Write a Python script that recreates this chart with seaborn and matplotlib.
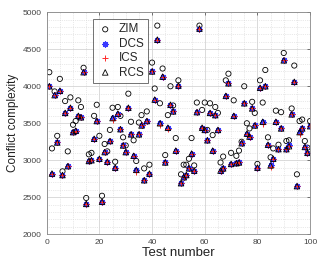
import matplotlib
matplotlib.use("Agg")
import matplotlib.pyplot as plt
import seaborn as sns
from matplotlib.ticker import MultipleLocator

# test index
test_number = list(range(1, 101))

# conflict complexity per test
zim = [4190, 3160, 3930, 3330, 4100, 2850, 3800, 3120, 3850, 3480,
       3530, 3810, 3720, 4250, 2490, 3080, 3100, 3600, 3750, 3330,
       2520, 3220, 3120, 3410, 3710, 2980, 3720, 3600, 3310, 3200,
       3900, 3520, 3270, 2990, 3510, 3610, 2890, 3660, 2940, 4320,
       3970, 4820, 3770, 4240, 3070, 3610, 4000, 3740, 3300, 4080,
       2810, 2940, 2940, 3020, 3300, 2930, 3780, 4820, 3680, 3780,
       3410, 3770, 3340, 3720, 3640, 2970, 3050, 4080, 4170, 3100,
       3810, 3060, 3130, 3250, 4000, 3500, 3430, 3790, 3640, 2950,
       4080, 3780, 4220, 3310, 3040, 3160, 3670, 3210, 3650, 4450,
       3260, 3270, 3700, 4280, 2810, 3530, 3550, 3260, 3170, 3530]

rcs = [4000, 2820, 3880, 3240, 3940, 2800, 3640, 2920, 3710, 3380,
       3400, 3600, 3580, 4190, 2410, 2990, 3000, 3290, 3530, 3020,
       2440, 3110, 2980, 3260, 3570, 2900, 3630, 3420, 3200, 3110,
       3710, 3350, 3060, 2870, 3350, 3470, 2730, 3530, 2820, 4200,
       3820, 4630, 3500, 4130, 2970, 3440, 3750, 3660, 3130, 4010,
       2690, 2770, 2800, 2890, 3090, 2860, 3650, 4780, 3440, 3410,
       3270, 3640, 3130, 3610, 3410, 2860, 2890, 3870, 4040, 2950,
       3600, 2960, 2970, 3230, 3770, 3360, 3320, 3700, 3470, 2900,
       3980, 3520, 4000, 3210, 2930, 3020, 3520, 3150, 3430, 4350,
       3150, 3190, 3620, 4060, 2650, 3380, 3430, 3180, 3100, 3460]

dcs = list(rcs)
dcs[91] = 3200

ics = list(rcs)
ics[24] = 3540
ics[33] = 2840
ics[42] = 3470
ics[45] = 3420
ics[81] = 3490
ics[84] = 2910
ics[95] = 3350

sns.set_style("white")
plt.rcParams['font.family'] = ['Liberation Sans', 'DejaVu Sans']

fig = plt.figure(figsize=(3.22, 2.73), dpi=100)
ax = fig.add_axes([0.145, 0.142, 0.818, 0.813])

sns.scatterplot(x=test_number, y=zim, ax=ax, marker='o', s=14,
                facecolor='none', edgecolor='black', linewidth=0.6, label='ZIM')
sns.scatterplot(x=test_number, y=dcs, ax=ax, marker=(8, 2, 0), s=16,
                color='#3a3aff', edgecolor='#3a3aff', linewidth=0.9, label='DCS')
sns.scatterplot(x=test_number, y=ics, ax=ax, marker='+', s=20,
                color='#ff2a2a', linewidth=0.7, label='ICS')
sns.scatterplot(x=test_number, y=rcs, ax=ax, marker='^', s=16,
                facecolor='none', edgecolor='black', linewidth=0.6, label='RCS')

ax.set_xlim(0, 100)
ax.set_ylim(2000, 5000)
ax.xaxis.set_major_locator(MultipleLocator(20))
ax.xaxis.set_minor_locator(MultipleLocator(5))
ax.yaxis.set_major_locator(MultipleLocator(500))
ax.yaxis.set_minor_locator(MultipleLocator(100))
ax.grid(which='major', color='#d4d4d4', linewidth=0.6)
ax.grid(which='minor', color='#d4d4d4', linewidth=0.5, linestyle=':')
ax.set_axisbelow(True)
ax.tick_params(which='both', direction='in', labelsize=6, colors='#444444',
               length=2, width=0.5, top=True, right=True)
ax.tick_params(which='minor', length=0)
for sp in ax.spines.values():
    sp.set_color('#888888')
    sp.set_linewidth(0.6)

ax.set_xlabel('Test number', fontsize=9.5, color='#222222', labelpad=1)
ax.set_ylabel('Conflict complexity', fontsize=8.5, color='#222222', labelpad=3)

leg = ax.legend(loc='upper left', bbox_to_anchor=(0.155, 0.995), fontsize=8.5,
                frameon=True, fancybox=False, edgecolor='#333333',
                handletextpad=0.5, borderpad=0.35, labelspacing=0.2,
                handlelength=1.3, markerscale=1.0)
leg.get_frame().set_linewidth(0.6)

fig.savefig('out.png', dpi=100)
